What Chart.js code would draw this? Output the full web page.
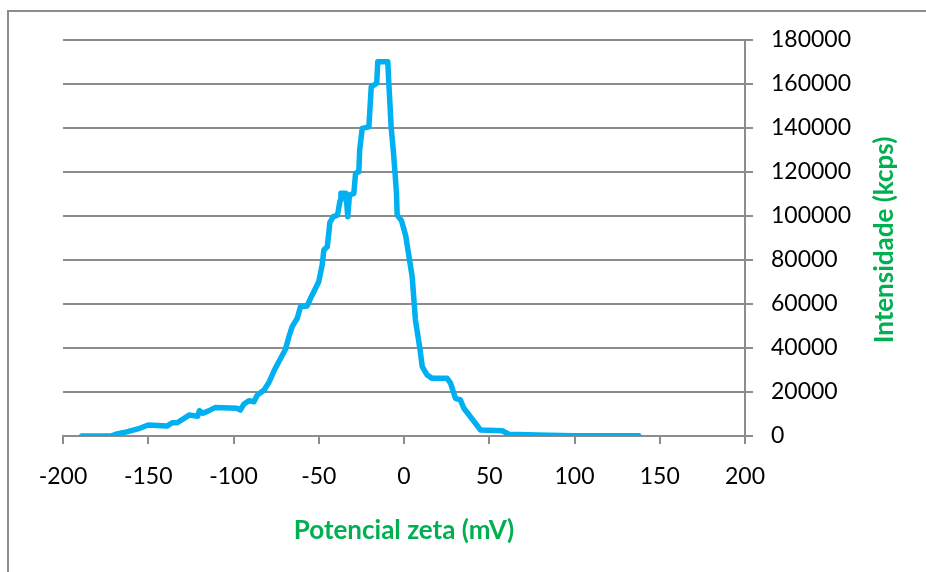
<!DOCTYPE html>
<html>
<head>
<meta charset="utf-8">
<script src="https://cdn.jsdelivr.net/npm/chart.js@4"></script>
<style>
  html, body { margin: 0; padding: 0; background: #fff; overflow: hidden; }
  #wrap { position: relative; width: 926px; height: 572px; }
  #frame {
    position: absolute; left: 7px; top: 10px; width: 1000px; height: 700px;
    border-top: 2px solid #8c8c8c; border-left: 2px solid #8c8c8c;
  }
  canvas { position: absolute; left: 0; top: 0; }
</style>
</head>
<body>
<div id="wrap">
  <div id="frame"></div>
  <canvas id="zetaChart" width="926" height="572"></canvas>
</div>
<script>
// potencial zeta (mV) e intensidade (kcps)
const zeta = [
  -189, -172, -169, -162, -155, -150, -139, -136, -133, -126,
  -121, -120, -118, -115, -110.5, -98, -96, -94, -91, -88,
  -86, -82, -79, -76, -69.5, -67.5, -65.6, -62.6, -60.7, -56.8,
  -54.8, -50, -48, -47, -45, -44, -43.5, -41.5, -39, -37.5,
  -37, -34, -33, -32, -29.4, -28.4, -26.5, -26, -24.5, -20.6,
  -19.2, -16, -15.4, -9.5, -8.9, -7.5, -6.3, -5.3, -4.4, -4,
  -1.5, 1, 4.8, 6.7, 9.3, 10.7, 13.6, 16.5, 25.3, 27.3,
  30.2, 33.1, 35.1, 41.9, 44.9, 57.6, 61.5, 78, 99.6, 137.7
];
const intensidade = [
  0, 0, 800, 2000, 3500, 5000, 4500, 6000, 6000, 9500,
  9000, 11500, 10300, 11300, 13000, 12600, 11800, 14400, 16000, 15600,
  18600, 20900, 24700, 30000, 39400, 45100, 49700, 53500, 58800, 59100,
  62600, 70100, 77700, 84500, 86000, 93000, 97000, 99700, 100400, 107000,
  110300, 110300, 99700, 109500, 110300, 119400, 120100, 130000, 139800, 140500,
  158800, 160300, 170100, 170100, 160300, 140000, 130000, 120000, 110300, 100400,
  98000, 91000, 72400, 52700, 39900, 31500, 27700, 26200, 26200, 24000,
  17100, 16400, 12600, 5800, 2700, 2400, 800, 450, 150, 100
];
const xTicks = { min: -200, max: 200, step: 50 };
const yTicks = { min: 0, max: 180000, step: 20000 };

const LINE_COLOR = '#00B0F0';
const TITLE_COLOR = '#00B050';
const GRID_COLOR = '#8c8c8c';
const FONT = 'Lato, "Open Sans", sans-serif';

// título do eixo y, lido de baixo para cima como no Excel
const yTitlePlugin = {
  id: 'yTitle',
  afterDraw: function (chart) {
    const ctx = chart.ctx;
    const area = chart.chartArea;
    ctx.save();
    ctx.translate(885, (area.top + area.bottom) / 2 + 2);
    ctx.rotate(-Math.PI / 2);
    ctx.font = 'bold 26px ' + FONT;
    ctx.fillStyle = TITLE_COLOR;
    ctx.textAlign = 'center';
    ctx.textBaseline = 'middle';
    ctx.fillText('Intensidade (kcps)', 0, 0);
    ctx.restore();
  }
};

const points = zeta.map(function (x, i) { return { x: x, y: intensidade[i] }; });

new Chart(document.getElementById('zetaChart').getContext('2d'), {
  type: 'line',
  data: {
    datasets: [{
      label: 'Intensidade',
      data: points,
      borderColor: LINE_COLOR,
      borderWidth: 5.5,
      borderJoinStyle: 'round',
      borderCapStyle: 'round',
      pointRadius: 0,
      tension: 0,
      fill: false,
    }],
  },
  options: {
    responsive: false,
    animation: false,
    layout: { padding: { top: 40, left: 63, right: 0, bottom: 0 } },
    plugins: { legend: { display: false }, tooltip: { enabled: false } },
    scales: {
      x: {
        type: 'linear',
        min: xTicks.min,
        max: xTicks.max,
        afterFit: function (scale) { scale.height = 136; },
        ticks: {
          stepSize: xTicks.step,
          color: '#000',
          padding: 19,
          maxRotation: 0,
          font: { family: FONT, size: 23 },
        },
        grid: {
          drawOnChartArea: false,
          drawTicks: true,
          tickLength: 8,
          color: GRID_COLOR,
          lineWidth: 2,
        },
        border: { color: GRID_COLOR, width: 2 },
        title: {
          display: true,
          text: 'Potencial zeta (mV)',
          color: TITLE_COLOR,
          font: { family: FONT, size: 26, weight: 'bold' },
          padding: { top: 0, bottom: 26 },
        },
      },
      y: {
        position: 'right',
        min: yTicks.min,
        max: yTicks.max,
        afterFit: function (scale) { scale.width = 181; },
        ticks: {
          stepSize: yTicks.step,
          color: '#000',
          padding: 18,
          font: { family: FONT, size: 23 },
          callback: function (v) { return String(v); },
        },
        grid: {
          drawTicks: true,
          tickLength: 8,
          color: GRID_COLOR,
          lineWidth: 2,
        },
        border: { color: GRID_COLOR, width: 2 },
      },
    },
  },
  plugins: [yTitlePlugin],
});
</script>
</body>
</html>
